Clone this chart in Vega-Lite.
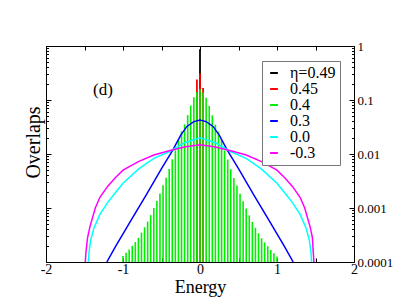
{
  "$schema": "https://vega.github.io/schema/vega-lite/v6.json",
  "width": 308,
  "height": 216,
  "autosize": "none",
  "padding": {"left": 46, "top": 46, "right": 45, "bottom": 46},
  "background": "white",
  "datasets": {
    "bars": [
      {"s": "η=0.49", "e": 0, "v": 0.87},
      {"s": "0.45", "e": -0.04, "v": 0.24},
      {"s": "0.45", "e": 0, "v": 0.31},
      {"s": "0.45", "e": 0.04, "v": 0.166},
      {"s": "0.4", "e": -1.0, "v": 0.000129},
      {"s": "0.4", "e": -0.96, "v": 0.000148},
      {"s": "0.4", "e": -0.92, "v": 0.00017},
      {"s": "0.4", "e": -0.88, "v": 0.0002},
      {"s": "0.4", "e": -0.84, "v": 0.000234},
      {"s": "0.4", "e": -0.8, "v": 0.00028},
      {"s": "0.4", "e": -0.76, "v": 0.00035},
      {"s": "0.4", "e": -0.72, "v": 0.00044},
      {"s": "0.4", "e": -0.68, "v": 0.00056},
      {"s": "0.4", "e": -0.64, "v": 0.00074},
      {"s": "0.4", "e": -0.6, "v": 0.001},
      {"s": "0.4", "e": -0.56, "v": 0.00135},
      {"s": "0.4", "e": -0.52, "v": 0.00186},
      {"s": "0.4", "e": -0.48, "v": 0.00263},
      {"s": "0.4", "e": -0.44, "v": 0.00363},
      {"s": "0.4", "e": -0.4, "v": 0.00525},
      {"s": "0.4", "e": -0.36, "v": 0.00794},
      {"s": "0.4", "e": -0.32, "v": 0.0117},
      {"s": "0.4", "e": -0.28, "v": 0.0182},
      {"s": "0.4", "e": -0.24, "v": 0.0263},
      {"s": "0.4", "e": -0.2, "v": 0.0355},
      {"s": "0.4", "e": -0.16, "v": 0.0525},
      {"s": "0.4", "e": -0.12, "v": 0.0794},
      {"s": "0.4", "e": -0.08, "v": 0.112},
      {"s": "0.4", "e": -0.04, "v": 0.141},
      {"s": "0.4", "e": 0, "v": 0.158},
      {"s": "0.4", "e": 0.04, "v": 0.138},
      {"s": "0.4", "e": 0.08, "v": 0.11},
      {"s": "0.4", "e": 0.12, "v": 0.078},
      {"s": "0.4", "e": 0.16, "v": 0.052},
      {"s": "0.4", "e": 0.2, "v": 0.035},
      {"s": "0.4", "e": 0.24, "v": 0.026},
      {"s": "0.4", "e": 0.28, "v": 0.018},
      {"s": "0.4", "e": 0.32, "v": 0.0116},
      {"s": "0.4", "e": 0.36, "v": 0.0079},
      {"s": "0.4", "e": 0.4, "v": 0.0052},
      {"s": "0.4", "e": 0.44, "v": 0.0036},
      {"s": "0.4", "e": 0.48, "v": 0.0026},
      {"s": "0.4", "e": 0.52, "v": 0.00184},
      {"s": "0.4", "e": 0.56, "v": 0.00133},
      {"s": "0.4", "e": 0.6, "v": 0.00098},
      {"s": "0.4", "e": 0.64, "v": 0.00073},
      {"s": "0.4", "e": 0.68, "v": 0.00055},
      {"s": "0.4", "e": 0.72, "v": 0.00043},
      {"s": "0.4", "e": 0.76, "v": 0.00034},
      {"s": "0.4", "e": 0.8, "v": 0.000275},
      {"s": "0.4", "e": 0.84, "v": 0.00023},
      {"s": "0.4", "e": 0.88, "v": 0.000196},
      {"s": "0.4", "e": 0.92, "v": 0.000166},
      {"s": "0.4", "e": 0.96, "v": 0.000145},
      {"s": "0.4", "e": 1.0, "v": 0.000126}
    ],
    "curves": [
      {"s": "0.3", "e": -1.21, "v": 0.0001},
      {"s": "0.3", "e": -1.1, "v": 0.00019},
      {"s": "0.3", "e": -0.9, "v": 0.000575},
      {"s": "0.3", "e": -0.7, "v": 0.00174},
      {"s": "0.3", "e": -0.5, "v": 0.00537},
      {"s": "0.3", "e": -0.35, "v": 0.012},
      {"s": "0.3", "e": -0.25, "v": 0.0224},
      {"s": "0.3", "e": -0.17, "v": 0.0324},
      {"s": "0.3", "e": -0.08, "v": 0.0398},
      {"s": "0.3", "e": 0, "v": 0.0427},
      {"s": "0.3", "e": 0.08, "v": 0.0398},
      {"s": "0.3", "e": 0.17, "v": 0.0324},
      {"s": "0.3", "e": 0.25, "v": 0.0224},
      {"s": "0.3", "e": 0.35, "v": 0.012},
      {"s": "0.3", "e": 0.5, "v": 0.00537},
      {"s": "0.3", "e": 0.7, "v": 0.00174},
      {"s": "0.3", "e": 0.9, "v": 0.000575},
      {"s": "0.3", "e": 1.1, "v": 0.00019},
      {"s": "0.3", "e": 1.21, "v": 0.0001},
      {"s": "0.0", "e": -1.45, "v": 0.0001},
      {"s": "0.0", "e": -1.44, "v": 0.000158},
      {"s": "0.0", "e": -1.42, "v": 0.000251},
      {"s": "0.0", "e": -1.38, "v": 0.000417},
      {"s": "0.0", "e": -1.3, "v": 0.000759},
      {"s": "0.0", "e": -1.2, "v": 0.00126},
      {"s": "0.0", "e": -1.1, "v": 0.00191},
      {"s": "0.0", "e": -1.0, "v": 0.00288},
      {"s": "0.0", "e": -0.8, "v": 0.00525},
      {"s": "0.0", "e": -0.6, "v": 0.00832},
      {"s": "0.0", "e": -0.4, "v": 0.011},
      {"s": "0.0", "e": -0.2, "v": 0.0162},
      {"s": "0.0", "e": 0, "v": 0.02},
      {"s": "0.0", "e": 0.2, "v": 0.0162},
      {"s": "0.0", "e": 0.4, "v": 0.011},
      {"s": "0.0", "e": 0.6, "v": 0.00832},
      {"s": "0.0", "e": 0.8, "v": 0.00525},
      {"s": "0.0", "e": 1.0, "v": 0.00288},
      {"s": "0.0", "e": 1.1, "v": 0.00191},
      {"s": "0.0", "e": 1.2, "v": 0.00126},
      {"s": "0.0", "e": 1.3, "v": 0.000759},
      {"s": "0.0", "e": 1.38, "v": 0.000417},
      {"s": "0.0", "e": 1.42, "v": 0.000251},
      {"s": "0.0", "e": 1.44, "v": 0.000158},
      {"s": "0.0", "e": 1.45, "v": 0.0001},
      {"s": "-0.3", "e": -1.49, "v": 0.0001},
      {"s": "-0.3", "e": -1.48, "v": 0.000158},
      {"s": "-0.3", "e": -1.46, "v": 0.000282},
      {"s": "-0.3", "e": -1.43, "v": 0.000447},
      {"s": "-0.3", "e": -1.36, "v": 0.001},
      {"s": "-0.3", "e": -1.3, "v": 0.00158},
      {"s": "-0.3", "e": -1.2, "v": 0.00251},
      {"s": "-0.3", "e": -1.1, "v": 0.00363},
      {"s": "-0.3", "e": -1.0, "v": 0.00501},
      {"s": "-0.3", "e": -0.8, "v": 0.00724},
      {"s": "-0.3", "e": -0.6, "v": 0.00955},
      {"s": "-0.3", "e": -0.4, "v": 0.0115},
      {"s": "-0.3", "e": -0.2, "v": 0.0135},
      {"s": "-0.3", "e": 0, "v": 0.0148},
      {"s": "-0.3", "e": 0.2, "v": 0.0135},
      {"s": "-0.3", "e": 0.4, "v": 0.0115},
      {"s": "-0.3", "e": 0.6, "v": 0.00955},
      {"s": "-0.3", "e": 0.8, "v": 0.00724},
      {"s": "-0.3", "e": 1.0, "v": 0.00501},
      {"s": "-0.3", "e": 1.1, "v": 0.00363},
      {"s": "-0.3", "e": 1.2, "v": 0.00251},
      {"s": "-0.3", "e": 1.3, "v": 0.00158},
      {"s": "-0.3", "e": 1.36, "v": 0.001},
      {"s": "-0.3", "e": 1.43, "v": 0.000447},
      {"s": "-0.3", "e": 1.46, "v": 0.000282},
      {"s": "-0.3", "e": 1.47, "v": 0.000158},
      {"s": "-0.3", "e": 1.48, "v": 0.0001}
    ],
    "labels": [{"e": -1.26, "v": 0.155, "t": "(d)"}]
  },
  "resolve": {"axis": {"x": "independent", "y": "independent"}},
  "layer": [
    {
      "data": {"name": "bars"},
      "transform": [{"filter": "datum.s == 'η=0.49'"}],
      "mark": {"type": "rule", "strokeWidth": 1.8},
      "encoding": {
        "x": {"field": "e", "type": "quantitative", "scale": {"domain": [-2, 2], "nice": false, "zero": false},
          "axis": {"orient": "bottom", "values": [-2, -1.5, -1, -0.5, 0, 0.5, 1, 1.5, 2], "labelExpr": "datum.value % 1 == 0 ? toString(datum.value) : ''", "tickSize": -4, "labelPadding": 4, "labelFontSize": 14, "labelFlush": false, "labelOverlap": false, "title": "Energy", "titleFontSize": 18, "titleBaseline": "alphabetic", "titleY": 30}},
        "y": {"field": "v", "type": "quantitative", "scale": {"type": "log", "domain": [0.0001, 1], "nice": false},
          "axis": {"orient": "left", "values": [0.0001, 0.001, 0.01, 0.1, 1], "labels": false, "tickSize": -5, "title": "Overlaps", "titleFontSize": 20, "titleAngle": -90, "titleAlign": "center", "titleBaseline": "middle", "titleX": -13, "titleY": 96}},
        "y2": {"datum": 0.0001},
        "color": {"field": "s", "type": "nominal", "scale": {"domain": ["η=0.49", "0.45", "0.4", "0.3", "0.0", "-0.3"], "range": ["#000000", "#ff0000", "#00ee00", "#0000ff", "#00ffff", "#ff00ff"]}, "legend": {"title": null}}
      }
    },
    {
      "data": {"name": "bars"},
      "transform": [{"filter": "datum.s == '0.45'"}],
      "mark": {"type": "rule", "strokeWidth": 1.8},
      "encoding": {
        "x": {"field": "e", "type": "quantitative", "axis": {"orient": "top", "values": [-2, -1.5, -1, -0.5, 0, 0.5, 1, 1.5, 2], "labels": false, "tickSize": -4, "title": null}},
        "y": {"field": "v", "type": "quantitative", "axis": {"orient": "left", "values": [0.0002, 0.0003, 0.0004, 0.0005, 0.0006, 0.0007, 0.0008, 0.0009, 0.002, 0.003, 0.004, 0.005, 0.006, 0.007, 0.008, 0.009, 0.02, 0.03, 0.04, 0.05, 0.06, 0.07, 0.08, 0.09, 0.2, 0.3, 0.4, 0.5, 0.6, 0.7, 0.8, 0.9], "labels": false, "tickSize": -2.5, "title": null}},
        "y2": {"datum": 0.0001},
        "color": {"field": "s", "type": "nominal"}
      }
    },
    {
      "data": {"name": "bars"},
      "transform": [{"filter": "datum.s == '0.4'"}],
      "mark": {"type": "rule", "strokeWidth": 1.6},
      "encoding": {
        "x": {"field": "e", "type": "quantitative", "axis": null},
        "y": {"field": "v", "type": "quantitative", "axis": {"orient": "right", "values": [0.0001, 0.001, 0.01, 0.1, 1], "labelExpr": "datum.value == 1 ? '1' : datum.value == 0.1 ? '0.1' : datum.value == 0.01 ? '0.01' : datum.value == 0.001 ? '0.001' : '0.0001'", "tickSize": -5, "labelPadding": 8, "labelFontSize": 13, "labelBaseline": "middle", "labelFlush": false, "labelOverlap": false, "title": null}},
        "y2": {"datum": 0.0001},
        "color": {"field": "s", "type": "nominal"}
      }
    },
    {
      "data": {"name": "curves"},
      "mark": {"type": "line", "strokeWidth": 1.5, "clip": true},
      "encoding": {
        "x": {"field": "e", "type": "quantitative", "axis": null},
        "y": {"field": "v", "type": "quantitative", "axis": {"orient": "right", "values": [0.0002, 0.0003, 0.0004, 0.0005, 0.0006, 0.0007, 0.0008, 0.0009, 0.002, 0.003, 0.004, 0.005, 0.006, 0.007, 0.008, 0.009, 0.02, 0.03, 0.04, 0.05, 0.06, 0.07, 0.08, 0.09, 0.2, 0.3, 0.4, 0.5, 0.6, 0.7, 0.8, 0.9], "labels": false, "tickSize": -2.5, "title": null}},
        "color": {"field": "s", "type": "nominal"}
      }
    },
    {
      "data": {"name": "labels"},
      "mark": {"type": "text", "font": "Liberation Serif", "fontSize": 17, "baseline": "middle", "align": "center"},
      "encoding": {
        "x": {"field": "e", "type": "quantitative", "axis": null},
        "y": {"field": "v", "type": "quantitative", "axis": null},
        "text": {"field": "t"}
      }
    }
  ],
  "config": {
    "font": "Liberation Serif",
    "view": {"stroke": null},
    "axis": {"grid": false, "domainColor": "#000000", "domainWidth": 1, "tickColor": "#000000", "tickWidth": 1, "labelColor": "#000000", "titleColor": "#000000", "labelFont": "Liberation Serif", "titleFont": "Liberation Serif", "titleFontWeight": "normal"},
    "legend": {"orient": "none", "legendX": 216, "legendY": 15, "labelFont": "Liberation Serif", "labelFontSize": 16, "labelColor": "#000000", "symbolType": "stroke", "symbolSize": 60, "symbolStrokeWidth": 2, "strokeColor": "#777777", "fillColor": "#ffffff", "padding": 4, "rowPadding": 0, "labelOffset": 8}
  }
}
